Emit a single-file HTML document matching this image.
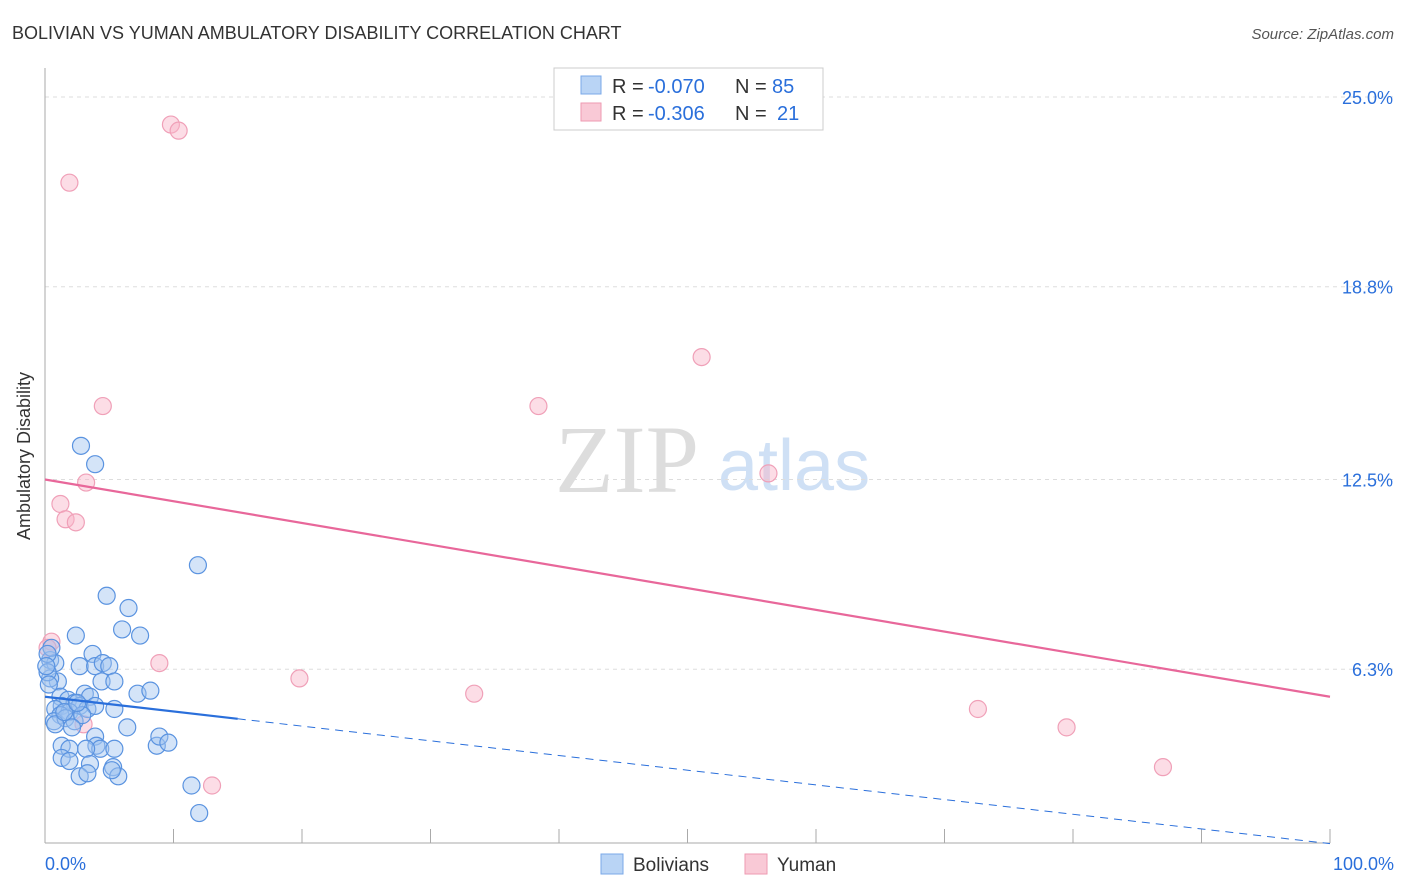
<!DOCTYPE html>
<html><head><meta charset="utf-8"><style>
body{margin:0;background:#fff;font-family:"Liberation Sans",sans-serif}
svg{display:block}
</style></head><body>
<svg id="c" width="1406" height="892">
<text x="12" y="39" font-size="18" fill="#333">BOLIVIAN VS YUMAN AMBULATORY DISABILITY CORRELATION CHART</text>
<text x="1394" y="39" font-size="15" fill="#555" text-anchor="end" font-style="italic">Source: ZipAtlas.com</text>
<g>
<text x="555" y="492" font-family="Liberation Serif" font-size="96" fill="#ddd">ZIP</text>
<text x="718" y="490" font-size="72" fill="#cfe0f5">atlas</text>
</g>
<text transform="translate(30,456) rotate(-90)" font-size="18" fill="#333" text-anchor="middle">Ambulatory Disability</text>
<g id="grid"></g><g id="axes"></g><g id="marks"></g>
<g>
<rect x="554" y="68" width="269" height="62" fill="#fff" stroke="#ccc"/>
<rect x="581" y="76" width="20" height="18" fill="#b9d4f5" stroke="#7aa8e8"/>
<text x="612" y="93" font-size="20" fill="#333">R =</text>
<text x="648" y="93" font-size="20" fill="#2a6fdb">-0.070</text>
<text x="735" y="93" font-size="20" fill="#333">N =</text>
<text x="772" y="93" font-size="20" fill="#2a6fdb">85</text>
<rect x="581" y="103" width="20" height="18" fill="#f9c9d6" stroke="#ee9ab2"/>
<text x="612" y="120" font-size="20" fill="#333">R =</text>
<text x="648" y="120" font-size="20" fill="#2a6fdb">-0.306</text>
<text x="735" y="120" font-size="20" fill="#333">N =</text>
<text x="777" y="120" font-size="20" fill="#2a6fdb">21</text>
</g>
<g>
<rect x="601" y="854" width="22" height="20" fill="#b9d4f5" stroke="#7aa8e8"/>
<text x="633" y="871" font-size="19" fill="#333">Bolivians</text>
<rect x="745" y="854" width="22" height="20" fill="#f9c9d6" stroke="#ee9ab2"/>
<text x="777" y="871" font-size="19" fill="#333">Yuman</text>
</g>
</svg>
<script>
const yTicks=[25.0,18.8,12.5,6.3];
const yTickLabels=["25.0%","18.8%","12.5%","6.3%"];
const xTickLabels=["0.0%","100.0%"];
const blueX=[2.8,3.9,11.9,4.8,6.5,6.0,7.4,2.4,3.7,0.4,0.8,2.7,3.9,4.5,5.0,4.4,5.4,1.0,0.4,0.2,7.2,8.2,3.1,3.5,1.2,1.8,2.3,2.7,1.3,0.8,3.3,3.9,5.4,1.9,1.2,0.7,1.6,2.3,2.9,2.1,1.3,1.9,3.9,4.0,4.3,5.4,3.2,6.4,0.8,8.7,8.9,9.6,1.3,1.9,3.5,5.3,5.7,2.7,3.3,11.4,12.0,5.2,0.5,0.2,0.1,0.3,1.5,2.5];
const blueY=[13.6,13.0,9.7,8.7,8.3,7.6,7.4,7.4,6.8,6.6,6.5,6.4,6.4,6.5,6.4,5.9,5.9,5.9,6.0,6.2,5.5,5.6,5.5,5.4,5.4,5.3,5.2,5.1,5.1,5.0,5.0,5.1,5.0,4.9,4.8,4.6,4.7,4.6,4.8,4.4,3.8,3.7,4.1,3.8,3.7,3.7,3.7,4.4,4.5,3.8,4.1,3.9,3.4,3.3,3.2,3.1,2.8,2.8,2.9,2.5,1.6,3.0,7.0,6.8,6.4,5.8,4.9,5.2];
const pinkX=[9.8,10.4,1.9,51.1,4.5,38.4,3.2,56.3,1.2,1.6,2.4,0.5,8.9,19.8,33.4,72.6,79.5,87.0,13.0,3.0,0.2];
const pinkY=[24.1,23.9,22.2,16.5,14.9,14.9,12.4,12.7,11.7,11.2,11.1,7.2,6.5,6.0,5.5,5.0,4.4,3.1,2.5,4.5,7.0];
const blueTrend=[5.4,-0.048];
const pinkTrend=[12.5,-0.071];
const X=v=>45+v*12.85, Y=v=>862-v*30.6;
const NS="http://www.w3.org/2000/svg";
function mk(t,a,p){const e=document.createElementNS(NS,t);for(const k in a)e.setAttribute(k,a[k]);p.appendChild(e);return e;}
const grid=document.getElementById('grid'),axes=document.getElementById('axes'),marks=document.getElementById('marks');
yTicks.forEach((t,i)=>{
 const l=mk('line',{x1:45,x2:1394,y1:Y(t),y2:Y(t),stroke:'#ddd','stroke-dasharray':'4,4'},grid);
 
 
 const tx=mk('text',{x:1393,y:Y(t)+7,'font-size':18,fill:'#2a6fdb','text-anchor':'end'},axes);tx.textContent=yTickLabels[i];
 
 
});
const ax=mk('line',{x1:45,x2:1330,y1:843,y2:843,stroke:'#aaa'},axes);


const ay=mk('line',{x1:45,x2:45,y1:68,y2:843,stroke:'#aaa'},axes);


for(let i=0;i<=10;i++){const t=mk('line',{x1:X(i*10),x2:X(i*10),y1:829,y2:843,stroke:'#aaa'},axes);
 
 }
[[0,'start',45],[100,'end',1394]].forEach((d,i)=>{const t=mk('text',{x:d[2],y:870,'font-size':18,fill:'#2a6fdb','text-anchor':d[1]},axes);t.textContent=xTickLabels[i];
 
 });
pinkX.forEach((x,i)=>{const c=mk('circle',{cx:X(x),cy:Y(pinkY[i]),r:8.5,fill:'rgba(248,180,200,0.45)',stroke:'#f0a0b8','stroke-width':1.2},marks);
 
 });
blueX.forEach((x,i)=>{const c=mk('circle',{cx:X(x),cy:Y(blueY[i]),r:8.5,fill:'rgba(160,195,240,0.45)',stroke:'#5a93e0','stroke-width':1.2},marks);
 
 });
const pl=mk('line',{x1:X(0),y1:Y(pinkTrend[0]),x2:X(100),y2:Y(pinkTrend[0]+100*pinkTrend[1]),stroke:'#e8679a','stroke-width':2.2},marks);


const bl=mk('line',{x1:X(0),y1:Y(blueTrend[0]),x2:X(15),y2:Y(blueTrend[0]+15*blueTrend[1]),stroke:'#2a6fdb','stroke-width':2.2},marks);


const bd=mk('line',{x1:X(15),y1:Y(blueTrend[0]+15*blueTrend[1]),x2:X(100),y2:Y(blueTrend[0]+100*blueTrend[1]),stroke:'#2a6fdb','stroke-width':1,'stroke-dasharray':'8,6'},marks);


</script>
</body></html>
